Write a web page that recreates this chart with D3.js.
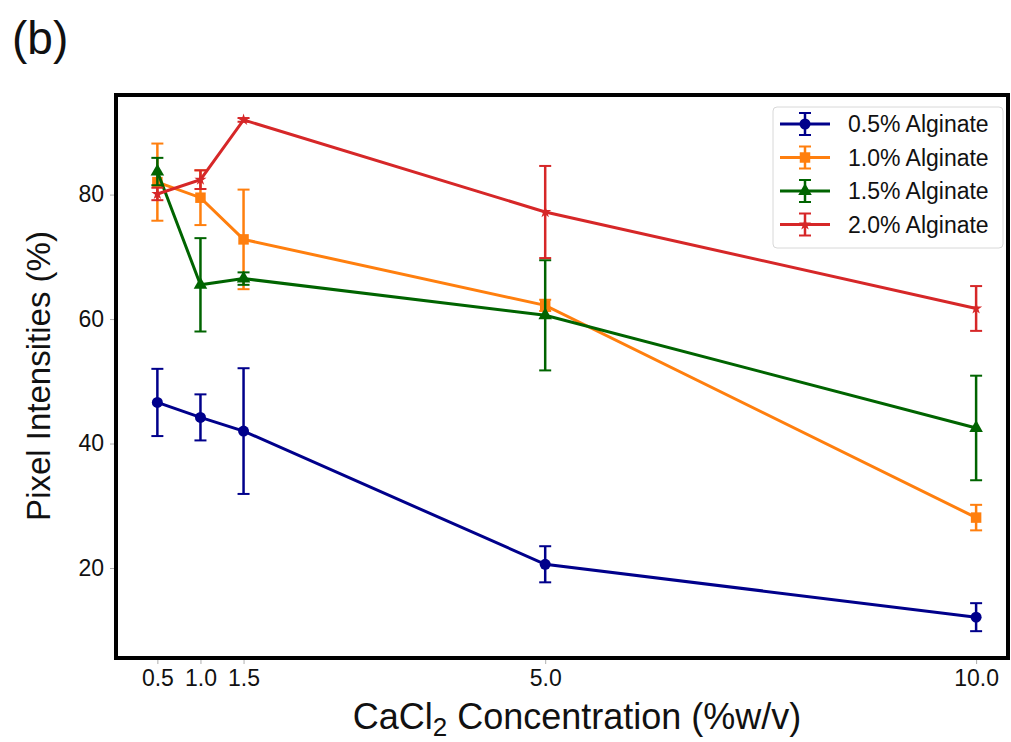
<!DOCTYPE html>
<html>
<head>
<meta charset="utf-8">
<script src="https://cdn.jsdelivr.net/npm/d3@7"></script>
<style>
  body { margin: 0; background: #fff; }
  svg { font-family: "Liberation Sans", Arial, sans-serif; }
</style>
</head>
<body>
<svg width="1011" height="742"></svg>
<script>
const svg = d3.select("svg");

// data
const conc = [0.5, 1.0, 1.5, 5.0, 10.0];
const xTicks = [0.5, 1.0, 1.5, 5.0, 10.0];
const yTicks = [20, 40, 60, 80];

const alg05 = [46.6, 44.2, 42.0, 20.6, 12.1];
const err05 = [5.4, 3.7, 10.1, 2.9, 2.25];
const alg10 = [82.0, 79.5, 72.8, 62.2, 28.1];
const err10 = [6.2, 4.4, 8.0, 0.9, 2.05];
const alg15 = [83.7, 65.5, 66.5, 60.6, 42.5];
const err15 = [2.2, 7.5, 1.0, 8.85, 8.4];
const alg20 = [80.1, 82.4, 92.0, 77.2, 61.7];
const err20 = [1.0, 1.5, 0.3, 7.4, 3.6];

const seriesNames = ["0.5% Alginate", "1.0% Alginate", "1.5% Alginate", "2.0% Alginate"];

const series = [
  { name: seriesNames[0], values: alg05, errs: err05, color: "#00008b", marker: "circle" },
  { name: seriesNames[1], values: alg10, errs: err10, color: "#ff7f0e", marker: "square" },
  { name: seriesNames[2], values: alg15, errs: err15, color: "#006400", marker: "triangle" },
  { name: seriesNames[3], values: alg20, errs: err20, color: "#d62728", marker: "star" },
];

const plotL = 116, plotR = 1008, plotT = 95, plotB = 658;

const x = d3.scaleLinear().domain([0.02, 10.37]).range([plotL, plotR]);
const y = d3.scaleLinear().domain([5.54, 96]).range([plotB, plotT]);

// axes
const xAxis = svg.append("g")
  .attr("transform", `translate(0,${plotB})`)
  .call(d3.axisBottom(x).tickValues(xTicks).tickFormat(d3.format(".1f")).tickSize(6).tickPadding(6));
const yAxis = svg.append("g")
  .attr("transform", `translate(${plotL},0)`)
  .call(d3.axisLeft(y).tickValues(yTicks).tickFormat(d3.format("d")).tickSize(6).tickPadding(6));

[xAxis, yAxis].forEach((a) => {
  a.select(".domain").remove();
  a.selectAll(".tick line").attr("stroke", "#999").attr("stroke-width", 0.8);
  a.selectAll(".tick text").attr("fill", "#111").style("font-size", "23px");
});

function symbolFor(m) {
  if (m === "circle") return d3.symbol(d3.symbolCircle, 95)();
  if (m === "square") return d3.symbol(d3.symbolSquare, 110)();
  if (m === "triangle") return d3.symbol(d3.symbolTriangle, 80)();
  return d3.symbol(d3.symbolStar, 45)();
}

const line = d3.line().x((d) => x(d[0])).y((d) => y(d[1]));

series.forEach((s) => {
  const g = svg.append("g");
  const pts = conc.map((c, i) => [c, s.values[i], s.errs[i]]);

  g.selectAll("line.err").data(pts).join("line")
    .attr("x1", (d) => x(d[0])).attr("x2", (d) => x(d[0]))
    .attr("y1", (d) => y(d[1] - d[2])).attr("y2", (d) => y(d[1] + d[2]))
    .attr("stroke", s.color).attr("stroke-width", 2.5);
  ["lo", "hi"].forEach((k) => {
    g.selectAll("line.cap" + k).data(pts).join("line")
      .attr("class", "cap" + k)
      .attr("x1", (d) => x(d[0]) - 6).attr("x2", (d) => x(d[0]) + 6)
      .attr("y1", (d) => y(k === "lo" ? d[1] - d[2] : d[1] + d[2]))
      .attr("y2", (d) => y(k === "lo" ? d[1] - d[2] : d[1] + d[2]))
      .attr("stroke", s.color).attr("stroke-width", 2);
  });

  g.append("path").datum(pts)
    .attr("d", line).attr("fill", "none")
    .attr("stroke", s.color).attr("stroke-width", 3);

  g.selectAll("path.mk").data(pts).join("path")
    .attr("class", "mk")
    .attr("transform", (d) => `translate(${x(d[0])},${y(d[1])})`)
    .attr("d", symbolFor(s.marker))
    .attr("fill", s.color);
});

// frame
svg.append("rect")
  .attr("x", plotL).attr("y", plotT)
  .attr("width", plotR - plotL).attr("height", plotB - plotT)
  .attr("fill", "none").attr("stroke", "#000").attr("stroke-width", 4);

// legend
const lg = svg.append("g").attr("transform", "translate(773,107)");
lg.append("rect")
  .attr("width", 230).attr("height", 141).attr("rx", 4)
  .attr("fill", "#fff").attr("fill-opacity", 0.8)
  .attr("stroke", "#d8d8d8").attr("stroke-width", 1);
series.forEach((s, i) => {
  const cy = 17 + i * 33.5;
  const e = lg.append("g").attr("transform", `translate(0,${cy})`);
  e.append("line").attr("x1", 7).attr("x2", 57).attr("y1", 0).attr("y2", 0)
    .attr("stroke", s.color).attr("stroke-width", 3);
  e.append("line").attr("x1", 32).attr("x2", 32).attr("y1", -11).attr("y2", 11)
    .attr("stroke", s.color).attr("stroke-width", 2.5);
  [-11, 11].forEach((dy) => {
    e.append("line").attr("x1", 26).attr("x2", 38).attr("y1", dy).attr("y2", dy)
      .attr("stroke", s.color).attr("stroke-width", 2);
  });
  e.append("path").attr("transform", "translate(32,0)")
    .attr("d", symbolFor(s.marker)).attr("fill", s.color);
  e.append("text").attr("x", 75).attr("y", 8)
    .style("font-size", "23px").attr("fill", "#111").text(s.name);
});

// axis labels
const xl = svg.append("text")
  .attr("x", 577).attr("y", 729)
  .attr("text-anchor", "middle")
  .style("font-size", "36px").attr("fill", "#111");
xl.append("tspan").text("CaCl");
xl.append("tspan").attr("dy", 7).style("font-size", "26px").text("2");
xl.append("tspan").attr("dy", -7).text(" Concentration (%w/v)");

svg.append("text")
  .attr("transform", "translate(50,376) rotate(-90)")
  .attr("text-anchor", "middle")
  .style("font-size", "33px").attr("fill", "#111")
  .text("Pixel Intensities (%)");

svg.append("text")
  .attr("x", 12).attr("y", 54)
  .style("font-size", "46px").attr("fill", "#111")
  .text("(b)");
</script>
</body>
</html>
